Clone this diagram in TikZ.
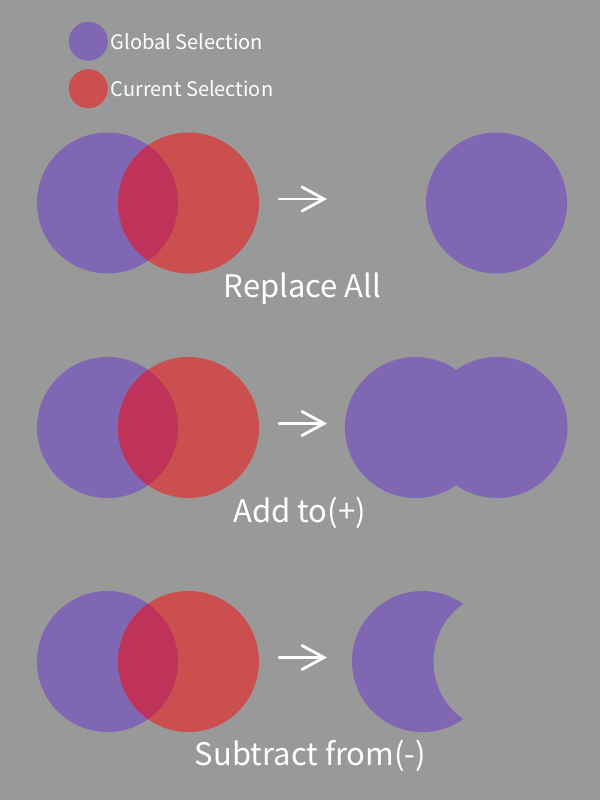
\documentclass[tikz,border=0pt]{standalone}
\usepackage{fontspec}
\setmainfont{Noto Sans CJK SC}
\usetikzlibrary{calc}
\definecolor{bg}{HTML}{999999}
\definecolor{gsel}{HTML}{7F67B3}
\definecolor{csel}{HTML}{CB4F4F}
\definecolor{both}{HTML}{BF325A}
\tikzset{
  gfill/.style={fill=gsel, draw=none},
  cfill/.style={fill=csel, draw=none},
  bigtext/.style={text=white, font=\fontsize{31}{34}\selectfont, inner sep=0pt, anchor=base},
  legtext/.style={text=white, font=\fontsize{20}{24}\selectfont, inner sep=0pt, anchor=base west},
  arrowline/.style={draw=white, line width=2.8pt, line cap=round, line join=miter},
}
\begin{document}
\begin{tikzpicture}[x=1pt,y=-1pt]
\fill[bg] (0,0) rectangle (600,800);
\useasboundingbox (0,0) rectangle (600,800);
% legend
\fill[gfill] (88.3,41.3) circle (19.5);
\fill[cfill] (88.3,88.7) circle (19.5);
\node[legtext] (lg) at (110.7,49.3) {Global Selection};
\node[legtext] (lc) at (110.7,96) {Current Selection};
% rows
\foreach \y/\n in {203/a,427.5/b,661.5/c}{
  \fill[gfill] (107.5,\y) circle (70.5);
  \fill[cfill] (188.5,\y) circle (70.5);
  \begin{scope}
    \clip (107.5,\y) circle (70.5);
    \fill[both] (188.5,\y) circle (70.5);
  \end{scope}
  \coordinate (s\n) at (279,\y-4);
  \coordinate (t\n) at (324,\y-4);
  \draw[arrowline] (s\n) -- (t\n);
  \draw[arrowline] ($(t\n)+(-22,-12)$) -- (t\n) -- ($(t\n)+(-22,12)$);
}
% results
\fill[gfill] (496.5,203) circle (70.5);
\fill[gfill] (415.5,427.5) circle (70.5);
\fill[gfill] (497,427.5) circle (70.5);
\fill[gfill] (422.5,661.5) circle (70.5);
\fill[bg] (504,661.5) circle (70.5);
% labels
\node[bigtext] (l1) at (302.5,297) {Replace All};
\node[bigtext] (l2) at (299.5,522.7) {Add to(+)};
\node[bigtext] (l3) at (310.5,765) {Subtract from(-)};
\end{tikzpicture}
\end{document}
